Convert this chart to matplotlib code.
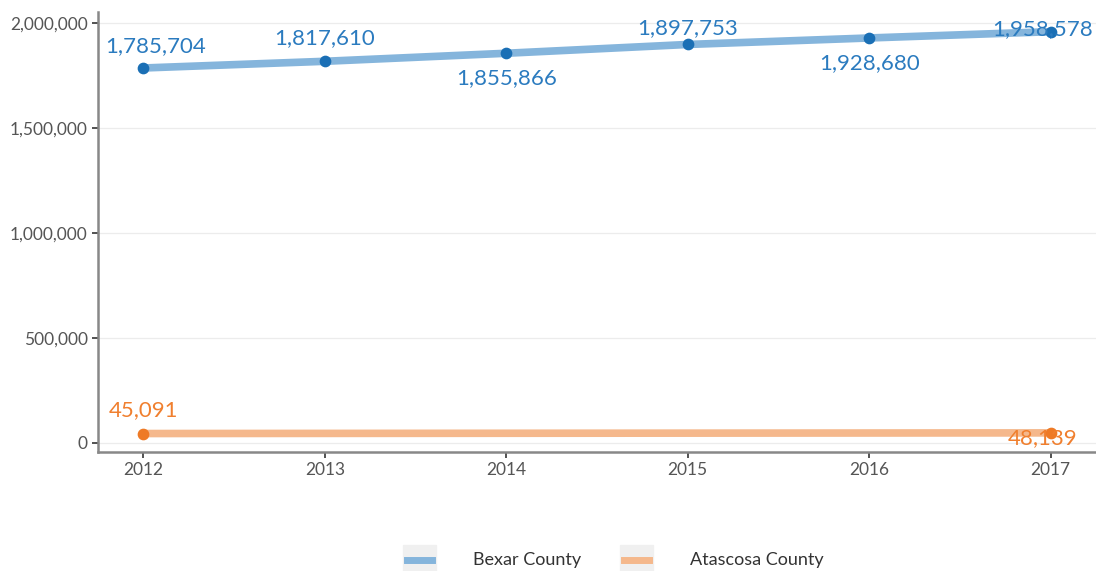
import matplotlib.pyplot as plt
from matplotlib.lines import Line2D
from matplotlib.patches import Rectangle
from matplotlib.ticker import FuncFormatter

# Population data
years = [2012, 2013, 2014, 2015, 2016, 2017]
bexar = [1785704, 1817610, 1855866, 1897753, 1928680, 1958578]
atascosa_years = [2012, 2017]
atascosa = [45091, 48139]
series_names = ['Bexar County', 'Atascosa County']

plt.rcParams['font.family'] = ['Lato', 'DejaVu Sans']

bexar_line = '#85b5dc'
bexar_dot = '#1a6fb5'
bexar_text = '#2b7bbf'
atas_line = '#f5b88c'
atas_dot = '#ee7a26'
atas_text = '#f07f2e'

fig = plt.figure(figsize=(10.96, 5.71), dpi=100)
ax = fig.add_axes([0.0894, 0.2084, 0.9106, 0.7706])

ax.plot(years, bexar, color=bexar_line, lw=5.5, solid_capstyle='butt', zorder=2)
ax.scatter(years, bexar, color=bexar_dot, s=55, zorder=3)
ax.plot(atascosa_years, atascosa, color=atas_line, lw=5.5, solid_capstyle='butt', zorder=2)
ax.scatter(atascosa_years, atascosa, color=atas_dot, s=55, zorder=3)

# value labels (offsets in points)
bexar_offsets = [(9, 16), (0, 17), (0, -18), (0, 12), (0, -18), (-6, 2)]
for x, y, (dx, dy) in zip(years, bexar, bexar_offsets):
    ax.annotate(f'{y:,}', (x, y), xytext=(dx, dy), textcoords='offset points',
                ha='center', va='center', fontsize=16, color=bexar_text, zorder=4)
atas_offsets = [(0, 17), (-6, -4)]
for x, y, (dx, dy) in zip(atascosa_years, atascosa, atas_offsets):
    ax.annotate(f'{y:,}', (x, y), xytext=(dx, dy), textcoords='offset points',
                ha='center', va='center', fontsize=16, color=atas_text, zorder=4)

ax.set_xlim(2011.75, 2017.25)
ax.set_ylim(-42900, 2052400)
ax.set_xticks(years)
ax.set_yticks([0, 500000, 1000000, 1500000, 2000000])
ax.yaxis.set_major_formatter(FuncFormatter(lambda v, p: f'{int(v):,}'))
ax.tick_params(labelsize=12.5, labelcolor='#555555', color='#333333', length=4, width=1.2)
ax.grid(axis='y', color='#ececec', lw=0.9)
ax.set_axisbelow(True)
for side in ['top', 'right']:
    ax.spines[side].set_visible(False)
for side in ['left', 'bottom']:
    ax.spines[side].set_color('#888888')
    ax.spines[side].set_linewidth(1.8)

# legend drawn at the bottom
legend_items = [(series_names[0], bexar_line, 403, 473), (series_names[1], atas_line, 620, 690)]
W, H = 1096, 571
for name, col, sx, tx in legend_items:
    fig.patches.append(Rectangle((sx / W, (H - 575) / H), 33 / W, 30 / H,
                                 transform=fig.transFigure, color='#f0f0f0', zorder=1))
    fig.lines.append(Line2D([(sx + 4) / W, (sx + 29) / W], [(H - 560) / H] * 2,
                            transform=fig.transFigure, color=col, lw=5, zorder=2))
    fig.text(tx / W, (H - 560) / H, name, fontsize=13, color='#333333', va='center')

fig.savefig('out.png', dpi=100)
